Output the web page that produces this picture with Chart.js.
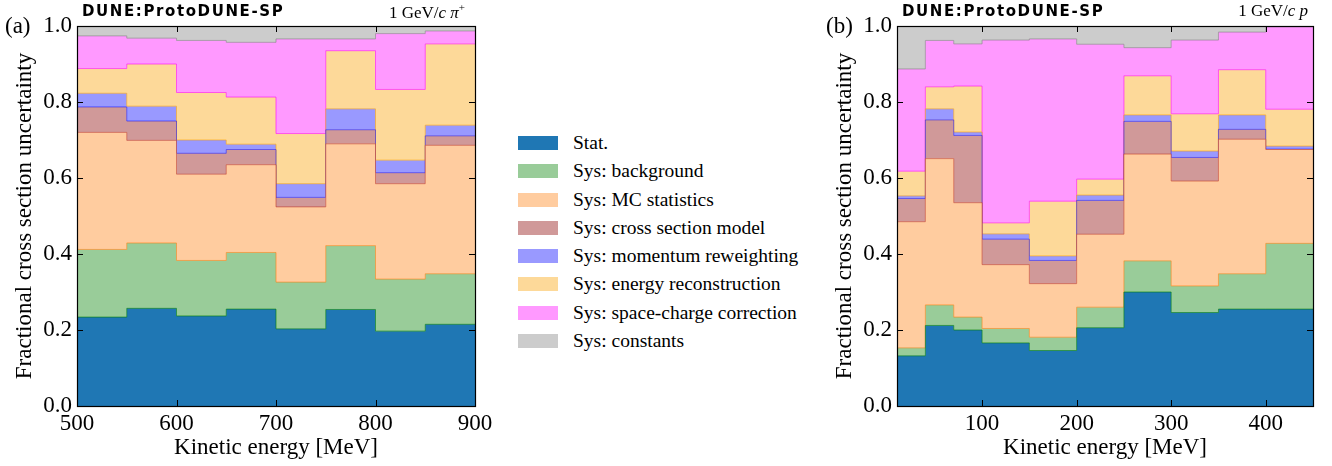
<!DOCTYPE html>
<html>
<head>
<meta charset="utf-8">
<script src="https://cdn.jsdelivr.net/npm/chart.js@4.4.1/dist/chart.umd.min.js"></script>
<style>
  html, body { margin:0; padding:0; background:#fff; }
  body { width:1332px; height:466px; position:relative; overflow:hidden; font-family:"Liberation Serif", serif; }
  .panel { position:absolute; top:0; height:466px; }
  .lbl { position:absolute; white-space:nowrap; color:#000; }
  .dune { font-family:"DejaVu Sans", sans-serif; font-weight:bold; font-size:15px; letter-spacing:1.6px; }
  .beam { font-family:"Liberation Serif", serif; font-size:17px; }
  .pl { font-family:"Liberation Serif", serif; font-size:23px; }
  #legend { position:absolute; left:518px; top:129px; }
  .row { position:relative; height:28.3px; }
  .sw { position:absolute; left:0; top:7px; width:40px; height:14px; }
  .tx { position:absolute; left:55px; top:0; line-height:28px; font-size:19.5px; white-space:nowrap; }
</style>
</head>
<body>
<div class="panel" style="left:0;width:500px"><canvas id="ca" width="500" height="466"></canvas></div>
<div class="panel" style="left:820px;width:512px"><canvas id="cb" width="512" height="466"></canvas></div>

<div class="lbl pl" style="left:5px;top:13px">(a)</div>
<div class="lbl pl" style="left:826px;top:13px">(b)</div>
<div class="lbl dune" style="left:82px;top:2px">DUNE:ProtoDUNE-SP</div>
<div class="lbl dune" style="left:902px;top:2px">DUNE:ProtoDUNE-SP</div>
<div class="lbl beam" style="right:867px;top:1px">1 GeV/<i>c</i> <i>π</i><sup style="font-size:11px">+</sup></div>
<div class="lbl beam" style="right:24px;top:1px">1 GeV/<i>c</i> <i>p</i></div>

<div id="legend"></div>

<script>
// ---------------- data (top edge of each stacked band) ----------------
const layerNames = ["Stat.", "Sys: background", "Sys: MC statistics", "Sys: cross section model",
  "Sys: momentum reweighting", "Sys: energy reconstruction", "Sys: space-charge correction", "Sys: constants"];

// Panel (a): 1 GeV/c pi+
const edgesA = [500, 550, 600, 650, 700, 750, 800, 850, 900];
const ticksXA = [500, 600, 700, 800, 900];
const statA  = [0.234, 0.257, 0.237, 0.255, 0.203, 0.254, 0.197, 0.215];
const bkgA   = [0.412, 0.429, 0.383, 0.404, 0.326, 0.422, 0.334, 0.348];
const mcA    = [0.720, 0.699, 0.610, 0.635, 0.524, 0.690, 0.585, 0.686];
const xsA    = [0.787, 0.750, 0.665, 0.675, 0.549, 0.727, 0.614, 0.711];
const momA   = [0.823, 0.789, 0.700, 0.689, 0.585, 0.782, 0.647, 0.739];
const ereA   = [0.888, 0.900, 0.825, 0.813, 0.717, 0.935, 0.833, 0.953];
const sccA   = [0.974, 0.968, 0.962, 0.957, 0.966, 0.966, 0.980, 0.987];
const constA = [1, 1, 1, 1, 1, 1, 1, 1];

// Panel (b): 1 GeV/c p
const edgesB = [10, 40, 70, 100, 150, 200, 250, 300, 350, 400, 450];
const ticksXB = [100, 200, 300, 400];
const statB  = [0.132, 0.212, 0.200, 0.166, 0.146, 0.206, 0.300, 0.246, 0.255, 0.255];
const bkgB   = [0.153, 0.266, 0.234, 0.204, 0.181, 0.260, 0.382, 0.316, 0.348, 0.428];
const mcB    = [0.485, 0.651, 0.535, 0.372, 0.322, 0.452, 0.663, 0.592, 0.702, 0.675];
const xsB    = [0.546, 0.753, 0.712, 0.439, 0.383, 0.541, 0.749, 0.654, 0.728, 0.676];
const momB   = [0.553, 0.782, 0.721, 0.453, 0.395, 0.555, 0.766, 0.671, 0.766, 0.684];
const ereB   = [0.618, 0.840, 0.842, 0.482, 0.539, 0.597, 0.869, 0.769, 0.885, 0.781];
const sccB   = [0.887, 0.962, 0.953, 0.963, 0.966, 0.952, 0.943, 0.963, 0.984, 0.998];
const constB = [1, 1, 1, 1, 1, 1, 1, 1, 1, 1];

const ticksY = [0, 0.2, 0.4, 0.6, 0.8, 1.0];

// ---------------- styles ----------------
const fillColors = ["#1f77b4", "#99cc99", "#ffcc9f", "#d09999", "#9999ff", "#fdd999", "#ff99ff", "#cccccc"];
const edgeColors = ["rgba(31,119,180,0.9)", "rgba(0,128,0,0.6)", "rgba(255,127,14,0.6)", "rgba(190,50,30,0.55)",
  "rgba(0,0,255,0.5)", "rgba(255,165,0,0.6)", "rgba(255,0,255,0.6)", "rgba(128,128,128,0.6)"];

function steps(edges, vals) {
  const pts = vals.map((v, i) => ({x: edges[i], y: v}));
  pts.push({x: edges[edges.length - 1], y: vals[vals.length - 1]});
  return pts;
}

function makeDatasets(edges, layers) {
  return layers.map((vals, i) => ({
    label: layerNames[i],
    data: steps(edges, vals),
    stepped: true,
    pointRadius: 0,
    borderWidth: 1,
    borderColor: i + 1 < layers.length ? edgeColors[i + 1] : edgeColors[i],
    backgroundColor: fillColors[i],
    fill: i === 0 ? 'origin' : '-1'
  }));
}

const frameTicks = {
  id: 'frameTicks',
  afterDraw(chart) {
    const {ctx, chartArea: a, scales} = chart;
    ctx.save();
    ctx.strokeStyle = '#000';
    ctx.lineWidth = 1;
    ctx.beginPath();
    const L = 6;
    scales.x.ticks.forEach(t => {
      const px = Math.round(scales.x.getPixelForValue(t.value)) + 0.5;
      ctx.moveTo(px, a.bottom); ctx.lineTo(px, a.bottom - L);
      ctx.moveTo(px, a.top); ctx.lineTo(px, a.top + L);
    });
    scales.y.ticks.forEach(t => {
      const py = Math.round(scales.y.getPixelForValue(t.value)) + 0.5;
      ctx.moveTo(a.left, py); ctx.lineTo(a.left + L, py);
      ctx.moveTo(a.right, py); ctx.lineTo(a.right - L, py);
    });
    ctx.stroke();
    ctx.lineWidth = 1.2;
    ctx.strokeRect(Math.round(a.left) + 0.5, Math.round(a.top) + 0.5,
                   Math.round(a.right - a.left), Math.round(a.bottom - a.top));
    ctx.restore();
  }
};

function makeChart(id, edges, layers, xTicks, padRight) {
  const font = {family: "'Liberation Serif', serif", size: 23};
  return new Chart(document.getElementById(id), {
    type: 'line',
    data: {datasets: makeDatasets(edges, layers)},
    options: {
      responsive: false,
      devicePixelRatio: 1,
      animation: false,
      layout: {padding: {left: 0, top: 26, right: padRight, bottom: 0}},
      plugins: {legend: {display: false}, tooltip: {enabled: false}},
      scales: {
        x: {
          type: 'linear',
          min: edges[0], max: edges[edges.length - 1],
          grid: {display: false, drawTicks: false},
          border: {display: false},
          afterBuildTicks: s => { s.ticks = xTicks.map(v => ({value: v})); },
          afterFit: s => { s.height = 60; },
          ticks: {color: '#000', font, padding: 4, maxRotation: 0, autoSkip: false},
          title: {display: true, text: 'Kinetic energy [MeV]', color: '#000', font, padding: {top: 0, bottom: 4}}
        },
        y: {
          type: 'linear',
          min: 0, max: 1,
          grid: {display: false, drawTicks: false},
          border: {display: false},
          afterBuildTicks: s => { s.ticks = ticksY.map(v => ({value: v})); },
          afterFit: s => { s.width = 77; },
          ticks: {color: '#000', font, padding: 5, callback: v => v.toFixed(1)},
          title: {display: true, text: 'Fractional cross section uncertainty', color: '#000', font, padding: {top: 11, bottom: 0}}
        }
      }
    },
    plugins: [frameTicks]
  });
}

makeChart('ca', edgesA, [statA, bkgA, mcA, xsA, momA, ereA, sccA, constA], ticksXA, 25);
makeChart('cb', edgesB, [statB, bkgB, mcB, xsB, momB, ereB, sccB, constB], ticksXB, 19);

// legend
const lg = document.getElementById('legend');
layerNames.forEach((n, i) => {
  const r = document.createElement('div');
  r.className = 'row';
  r.innerHTML = '<div class="sw" style="background:' + fillColors[i] + '"></div><div class="tx">' + n + '</div>';
  lg.appendChild(r);
});
</script>
</body>
</html>
